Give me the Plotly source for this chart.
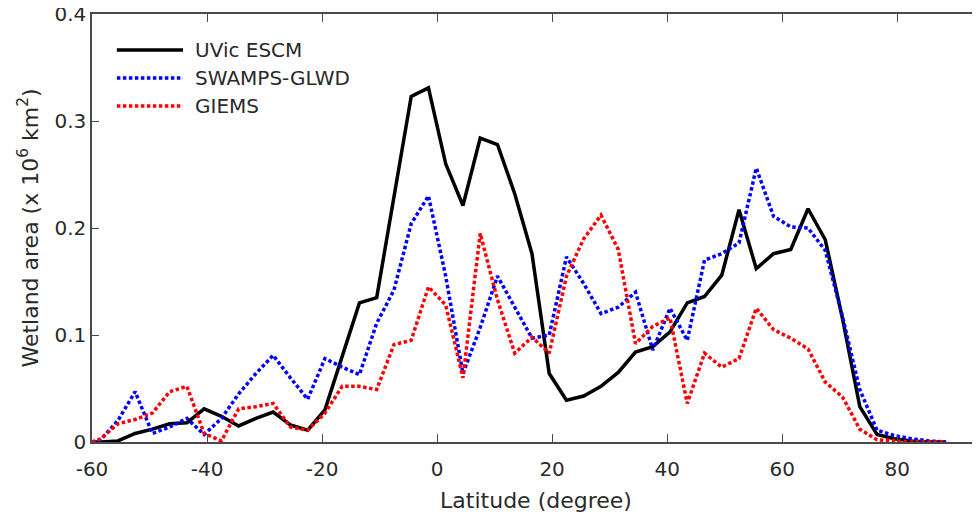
import plotly.graph_objects as go

lat = [-60, -58.5, -55.5, -52.5, -49.5, -46.5, -43.5, -40.5, -37.5, -34.5, -31.5,
       -28.5, -25.5, -22.5, -19.5, -16.5, -13.5, -10.5, -7.5, -4.5, -1.5,
       1.5, 4.5, 7.5, 10.5, 13.5, 16.5, 19.5, 22.5, 25.5, 28.5,
       31.5, 34.5, 37.5, 40.5, 43.5, 46.5, 49.5, 52.5, 55.5, 58.5,
       61.5, 64.5, 67.5, 70.5, 73.5, 76.5, 79.5, 82.5, 85.5, 88.5]

uvic = [0, 0, 0.001, 0.008, 0.012, 0.017, 0.018, 0.031, 0.024, 0.015, 0.022,
        0.028, 0.016, 0.011, 0.03, 0.08, 0.13, 0.135, 0.227, 0.323, 0.331,
        0.26, 0.221, 0.284, 0.278, 0.232, 0.176, 0.064, 0.039, 0.043, 0.052,
        0.065, 0.084, 0.089, 0.103, 0.13, 0.136, 0.156, 0.217, 0.162, 0.176,
        0.18, 0.218, 0.189, 0.115, 0.033, 0.007, 0.003, 0.001, 0, 0]

swamps = [0, 0.002, 0.02, 0.047, 0.008, 0.014, 0.022, 0.007, 0.022, 0.045, 0.064,
          0.081, 0.06, 0.04, 0.078, 0.07, 0.063, 0.111, 0.142, 0.204, 0.23,
          0.155, 0.064, 0.107, 0.155, 0.126, 0.097, 0.1, 0.173, 0.148, 0.12,
          0.126, 0.14, 0.086, 0.125, 0.095, 0.17, 0.176, 0.186, 0.256, 0.211,
          0.201, 0.2, 0.179, 0.117, 0.049, 0.011, 0.006, 0.003, 0.001, 0]

giems = [0, 0.003, 0.017, 0.021, 0.027, 0.047, 0.052, 0.008, 0.001, 0.031, 0.033,
         0.036, 0.014, 0.011, 0.027, 0.052, 0.052, 0.049, 0.091, 0.095, 0.145,
         0.128, 0.06, 0.195, 0.133, 0.083, 0.098, 0.083, 0.155, 0.19, 0.212,
         0.18, 0.092, 0.108, 0.116, 0.036, 0.083, 0.07, 0.078, 0.125, 0.105,
         0.097, 0.087, 0.056, 0.042, 0.012, 0.002, 0.001, 0, 0, 0]

series_names = ["UVic ESCM", "SWAMPS-GLWD", "GIEMS"]
series_values = [uvic, swamps, giems]
series_colors = ["black", "#0000ff", "#ff0000"]
series_dash = ["solid", "3.5px,2.5px", "3.5px,2.5px"]

x_ticks = [-60, -40, -20, 0, 20, 40, 60, 80]
x_ticktext = ["-60", "-40", "-20", "0", "20", "40", "60", "80"]
y_ticks = [0, 0.1, 0.2, 0.3, 0.4]
y_ticktext = ["0", "0.1", "0.2", "0.3", "0.4"]

FONT = "DejaVu Sans"
TXT = "#2a2a2a"
AX = "#4a4a4a"

fig = go.Figure()
for name, vals, col, dash in zip(series_names, series_values, series_colors, series_dash):
    fig.add_trace(go.Scatter(x=lat, y=vals, mode="lines", name=name, showlegend=False,
                             line=dict(color=col, width=3.5, dash=dash)))

# manual legend (top-left, inside the axes)
leg_x0, leg_x1, leg_tx = 0.028, 0.1025, 0.1137
leg_y0, leg_dy = 0.916, 0.0654
shapes = []
annotations = []
for i, (name, col, dash) in enumerate(zip(series_names, series_colors, series_dash)):
    yy = leg_y0 - i * leg_dy
    shapes.append(dict(type="line", xref="x domain", yref="y domain",
                       x0=leg_x0, x1=leg_x1, y0=yy, y1=yy,
                       line=dict(color=col, width=3.5, dash=dash)))
    annotations.append(dict(text=name, xref="x domain", yref="y domain",
                            x=leg_tx, y=yy, xanchor="left", yanchor="middle",
                            showarrow=False, font=dict(size=20, color=TXT, family=FONT)))

# the page body has an 8px default margin, so the figure is sized to fit inside the window
fig.update_layout(
    width=972, height=511,
    margin=dict(l=84, r=0, t=6, b=77),
    paper_bgcolor="white", plot_bgcolor="white",
    font=dict(family=FONT, size=20, color=TXT),
    showlegend=False,
    shapes=shapes, annotations=annotations,
    xaxis=dict(range=[-60, 94.4], tickmode="array", tickvals=x_ticks, ticktext=x_ticktext,
               ticks="inside", ticklen=8, tickwidth=1.3, tickcolor=AX,
               showline=True, linecolor=AX, linewidth=1.5, mirror="ticks",
               showgrid=False, zeroline=False, automargin=False,
               ticklabelstandoff=8, ticklabeloverflow="allow",
               tickfont=dict(size=20, color=TXT),
               title=dict(text="Latitude (degree)", font=dict(size=22, color=TXT), standoff=13)),
    yaxis=dict(range=[0, 0.4], tickmode="array", tickvals=y_ticks, ticktext=y_ticktext,
               ticks="inside", ticklen=7, tickwidth=1.3, tickcolor=AX,
               showline=True, linecolor=AX, linewidth=1.5, mirror=False,
               showgrid=False, zeroline=False, automargin=False,
               ticklabeloverflow="allow",
               tickfont=dict(size=20, color=TXT),
               title=dict(text="Wetland area (x 10<sup>6</sup> km<sup>2</sup>)",
                          font=dict(size=22, color=TXT), standoff=10)),
)

fig.write_html("out.html")
